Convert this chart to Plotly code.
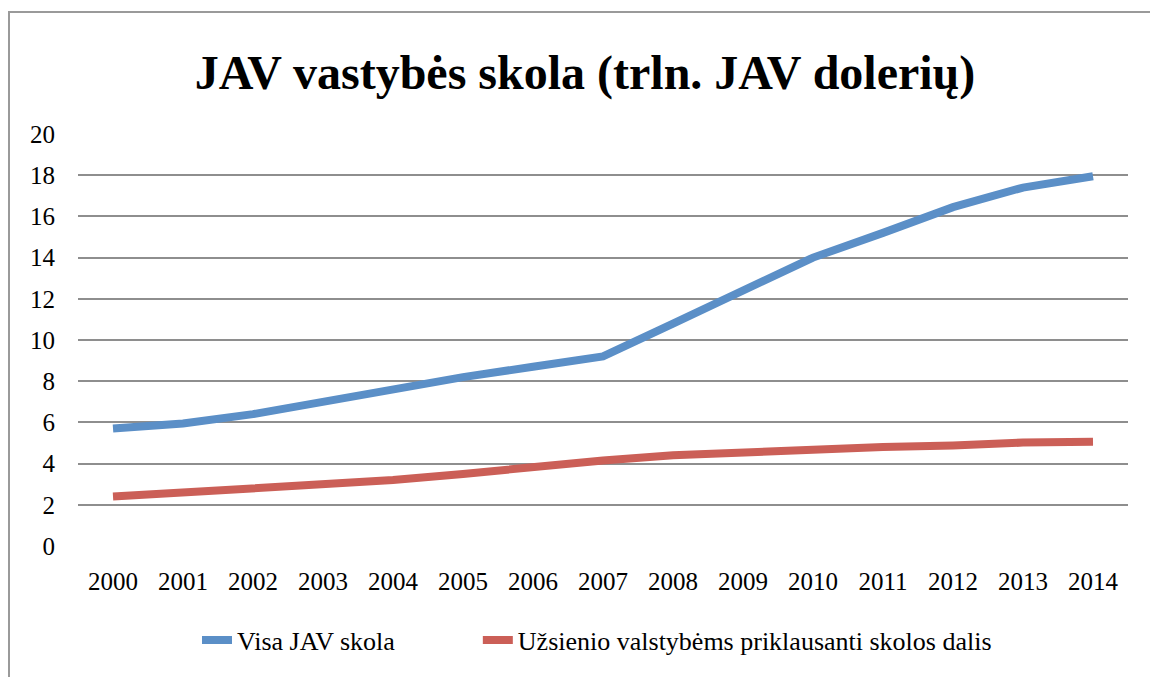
import plotly.graph_objects as go

# Dane (trln. JAV dolerių)
years = [str(y) for y in range(2000, 2015)]
total_debt = [5.7, 5.95, 6.4, 7.0, 7.6, 8.2, 8.7, 9.2, 10.8, 12.4, 14.0, 15.2, 16.45, 17.4, 17.95]
foreign_debt = [2.4, 2.6, 2.8, 3.0, 3.2, 3.5, 3.85, 4.15, 4.4, 4.55, 4.65, 4.8, 4.88, 5.02, 5.06]

series_names = ["Visa JAV skola", "Užsienio valstybėms priklausanti skolos dalis"]
series_colors = ["#5b8fc7", "#cb5f57"]
y_ticks = list(range(0, 21, 2))

FONT = "Liberation Serif"
NBSP = "\u00a0"

fig = go.Figure()
for i, (name, values, color) in enumerate(zip(series_names, [total_debt, foreign_debt], series_colors)):
    # odstęp między pozycjami legendy
    label = name + NBSP * 12 if i == 0 else name
    fig.add_trace(
        go.Scatter(
            x=years,
            y=values,
            mode="lines",
            name=label,
            line=dict(color=color, width=8),
            hovertemplate=f"{name}<br>%{{x}}: %{{y}}<extra></extra>",
        )
    )

fig.update_layout(
    width=1150,
    height=677,
    paper_bgcolor="white",
    plot_bgcolor="white",
    margin=dict(l=78, r=22, t=134, b=131),
    font=dict(family=FONT, size=24, color="black"),
    title=dict(
        text="<b>JAV vastybės skola (trln. JAV dolerių)</b>",
        font=dict(family=FONT, size=48, color="black"),
        xref="container",
        x=585 / 1150,
        xanchor="center",
        yref="container",
        y=1 - 72 / 677,
        yanchor="middle",
    ),
    xaxis=dict(
        type="category",
        range=[-0.5, 14.5],
        showgrid=False,
        showline=False,
        ticks="",
        ticklabelstandoff=18,
        tickfont=dict(family=FONT, size=25),
    ),
    yaxis=dict(
        range=[0, 20],
        tickvals=y_ticks,
        showgrid=True,
        gridcolor="#8e8e8e",
        gridwidth=2,
        zeroline=False,
        showline=False,
        ticks="",
        ticklabelstandoff=22,
        tickfont=dict(family=FONT, size=25),
    ),
    legend=dict(
        orientation="h",
        x=(197 - 78) / 1050,
        xanchor="left",
        y=(546 - 640) / 412,
        yanchor="middle",
        font=dict(family=FONT, size=26),
        bgcolor="rgba(0,0,0,0)",
    ),
    showlegend=True,
)

# Ramka aplink diagramą
fig.add_shape(
    type="rect",
    xref="paper",
    yref="paper",
    x0=(9 - 78) / 1050,
    x1=(1160 - 78) / 1050,
    y0=(546 - 700) / 412,
    y1=(546 - 12) / 412,
    line=dict(color="#9a9a9a", width=2),
    fillcolor="rgba(0,0,0,0)",
    layer="below",
)

fig.write_html(
    "out.html",
    post_script="document.body.style.margin='0';",
    config={"displayModeBar": False},
)
